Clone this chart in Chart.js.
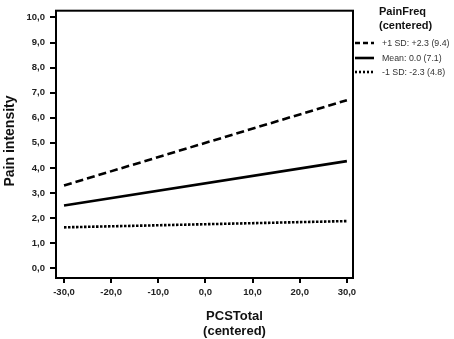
<!DOCTYPE html>
<html>
<head>
<meta charset="utf-8">
<script src="https://cdn.jsdelivr.net/npm/chart.js@4/dist/chart.umd.min.js"></script>
<style>
html,body{margin:0;padding:0;background:#fff;}
canvas{display:block;}
</style>
</head>
<body>
<canvas id="c" width="454" height="339"></canvas>
<script>
// ---- data ----
const xValues = [-30, 30];
const seriesHigh = [3.3, 6.7];    // +1 SD
const seriesMean = [2.5, 4.27];   // Mean
const seriesLow = [1.63, 1.88];   // -1 SD
const seriesLabels = ['+1 SD: +2.3 (9.4)', 'Mean: 0.0 (7.1)', '-1 SD: -2.3 (4.8)'];
const xTicks = [-30, -20, -10, 0, 10, 20, 30];
const xTickLabels = ['-30,0', '-20,0', '-10,0', '0,0', '10,0', '20,0', '30,0'];
const yTicks = [0, 1, 2, 3, 4, 5, 6, 7, 8, 9, 10];
const yTickLabels = ['0,0', '1,0', '2,0', '3,0', '4,0', '5,0', '6,0', '7,0', '8,0', '9,0', '10,0'];
const xTitle = ['PCSTotal', '(centered)'];
const yTitle = 'Pain intensity';
const legendTitle = ['PainFreq', '(centered)'];

const FONT = '"Liberation Sans", Arial, sans-serif';
const toPts = arr => arr.map((v, i) => ({x: xValues[i], y: v}));

const decor = {
  id: 'decor',
  afterDraw(chart) {
    const ctx = chart.ctx;
    const a = chart.chartArea;
    ctx.save();
    // frame
    ctx.strokeStyle = '#000';
    ctx.lineWidth = 2;
    ctx.setLineDash([]);
    ctx.strokeRect(a.left, a.top, a.right - a.left, a.bottom - a.top);
    // x title
    ctx.fillStyle = '#111';
    ctx.font = 'bold 13px ' + FONT;
    ctx.textAlign = 'center';
    ctx.textBaseline = 'middle';
    ctx.fillText(xTitle[0], 234.5, 316);
    ctx.fillText(xTitle[1], 234.5, 331);
    // y title
    ctx.save();
    ctx.translate(10, 141);
    ctx.rotate(-Math.PI / 2);
    ctx.font = 'bold 14px ' + FONT;
    ctx.fillText(yTitle, 0, 0);
    ctx.restore();
    // legend
    ctx.textAlign = 'left';
    ctx.font = 'bold 11px ' + FONT;
    ctx.fillText(legendTitle[0], 379, 12);
    ctx.fillText(legendTitle[1], 379, 26);
    const ys = [43, 58, 72];
    ctx.font = '8.8px ' + FONT;
    chart.data.datasets.forEach((ds, i) => {
      ctx.strokeStyle = '#000';
      ctx.lineWidth = ds.borderWidth;
      ctx.setLineDash(ds.legendDash);
      ctx.beginPath();
      ctx.moveTo(355, ys[i]);
      ctx.lineTo(374, ys[i]);
      ctx.stroke();
      ctx.fillStyle = '#333';
      ctx.fillText(seriesLabels[i], 382, ys[i] + 0.5);
    });
    ctx.restore();
  }
};

new Chart(document.getElementById('c'), {
  type: 'line',
  data: {
    datasets: [
      {label: seriesLabels[0], data: toPts(seriesHigh), borderColor: '#000', borderWidth: 2.6, borderDash: [8, 4], legendDash: [5, 3], pointRadius: 0},
      {label: seriesLabels[1], data: toPts(seriesMean), borderColor: '#000', borderWidth: 2.6, borderDash: [], legendDash: [], pointRadius: 0},
      {label: seriesLabels[2], data: toPts(seriesLow), borderColor: '#000', borderWidth: 2.6, borderDash: [2.5, 1.5], legendDash: [2, 2], pointRadius: 0}
    ]
  },
  options: {
    responsive: false,
    animation: false,
    devicePixelRatio: 1,
    layout: {padding: {top: 4, right: 101, left: 0, bottom: 0}},
    plugins: {legend: {display: false}, tooltip: {enabled: false}},
    scales: {
      x: {
        type: 'linear',
        min: -31.7, max: 31.3,
        afterFit(s) { s.height = 61; },
        afterBuildTicks(s) { s.ticks = xTicks.map(v => ({value: v})); },
        grid: {display: true, drawOnChartArea: false, tickLength: 5, color: '#000', lineWidth: 2},
        border: {display: false},
        ticks: {
          padding: 4,
          maxRotation: 0,
          autoSkip: false,
          color: '#222',
          font: {family: FONT, size: 9.5, weight: 'bold'},
          callback: v => xTickLabels[xTicks.indexOf(v)]
        }
      },
      y: {
        type: 'linear',
        min: -0.39, max: 10.27,
        afterFit(s) { s.width = 56; },
        afterBuildTicks(s) { s.ticks = yTicks.map(v => ({value: v})); },
        grid: {display: true, drawOnChartArea: false, tickLength: 6, color: '#000', lineWidth: 2},
        border: {display: false},
        ticks: {
          padding: 5,
          autoSkip: false,
          color: '#222',
          font: {family: FONT, size: 9.5, weight: 'bold'},
          callback: v => yTickLabels[yTicks.indexOf(v)]
        }
      }
    }
  },
  plugins: [decor]
});
</script>
</body>
</html>
